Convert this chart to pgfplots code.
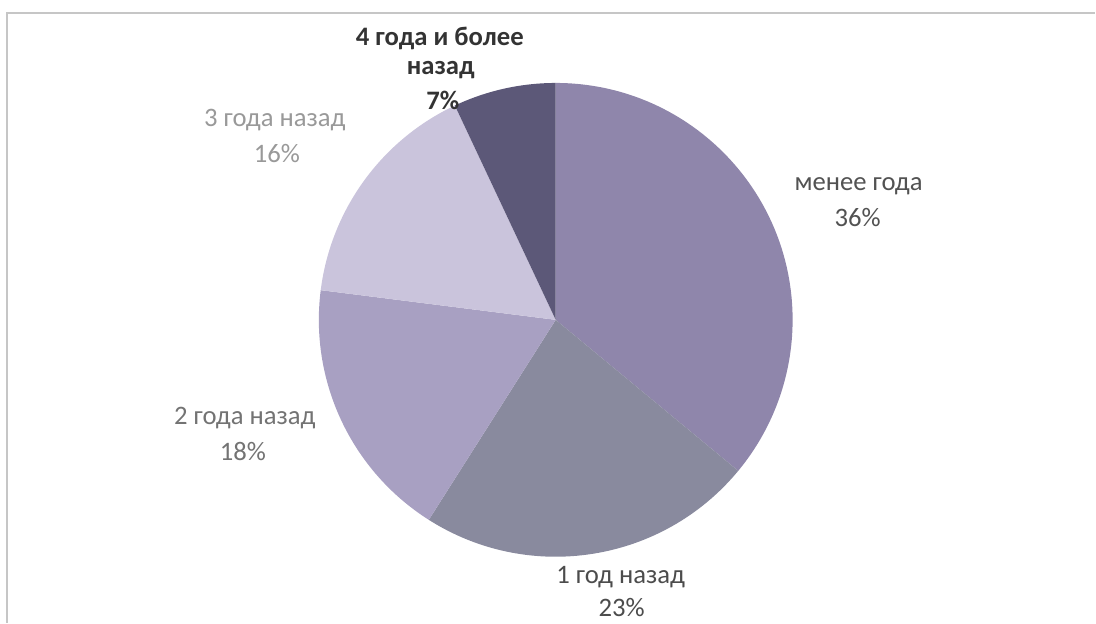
\documentclass[border=0pt]{standalone}
\usepackage{fontspec}
\setmainfont{Carlito}
\usepackage{pgfplots}
\usepackage{pgfplotstable}
\pgfplotsset{compat=1.18}

\definecolor{cA}{HTML}{8F86AB}
\definecolor{cB}{HTML}{898A9E}
\definecolor{cC}{HTML}{A8A0C2}
\definecolor{cD}{HTML}{CAC4DC}
\definecolor{cE}{HTML}{5C5878}

% share in percent, sector colour
\pgfplotstableread{
share col
36 cA
23 cB
18 cC
16 cD
7 cE
}\piedata

\begin{document}
\begin{tikzpicture}
\begin{axis}[
    scale only axis,
    width=822pt, height=467.25pt,
    xmin=0, xmax=1096, ymin=0, ymax=623,
    y dir=reverse,
    hide axis,
    clip=false,
]
\path (axis cs:0,0) rectangle (axis cs:1096,623);
\draw[gray!45, line width=0.8pt] (axis cs:7,623) -- (axis cs:7,13) -- (axis cs:1096,13);

\def\s{90}
\pgfplotsforeachungrouped \i in {0,...,4}{
    \pgfplotstablegetelem{\i}{share}\of\piedata \let\v\pgfplotsretval
    \pgfplotstablegetelem{\i}{col}\of\piedata \let\scol\pgfplotsretval
    \pgfmathsetmacro\e{\s-3.6*\v}
    \edef\temp{\noexpand\fill[\scol] (axis cs:556,320) -- ++(\s:177.75pt)
        arc[start angle=\s, end angle=\e, radius=177.75pt] -- cycle;}
    \temp
    \global\let\s\e
}

\begin{scope}[every node/.style={font=\fontsize{20}{24}\selectfont, inner sep=0pt}]
\node[font=\fontsize{20}{24}\selectfont\bfseries, text=black!80] at (axis cs:440,38) {4 года и более};
\node[font=\fontsize{20}{24}\selectfont\bfseries, text=black!80] at (axis cs:441,70) {назад};
\node[font=\fontsize{20}{24}\selectfont\bfseries, text=black!80] at (axis cs:443,100) {7\%};
\node[text=black!40] at (axis cs:275,120) {3 года назад};
\node[text=black!40] at (axis cs:277,154) {16\%};
\node[text=black!68] at (axis cs:859,186) {менее года};
\node[text=black!68] at (axis cs:858,218) {36\%};
\node[text=black!55] at (axis cs:245,418) {2 года назад};
\node[text=black!55] at (axis cs:243,452) {18\%};
\node[text=black!70] at (axis cs:621,577) {1 год назад};
\node[text=black!70] at (axis cs:622,608) {23\%};
\end{scope}
\end{axis}
\end{tikzpicture}
\end{document}
